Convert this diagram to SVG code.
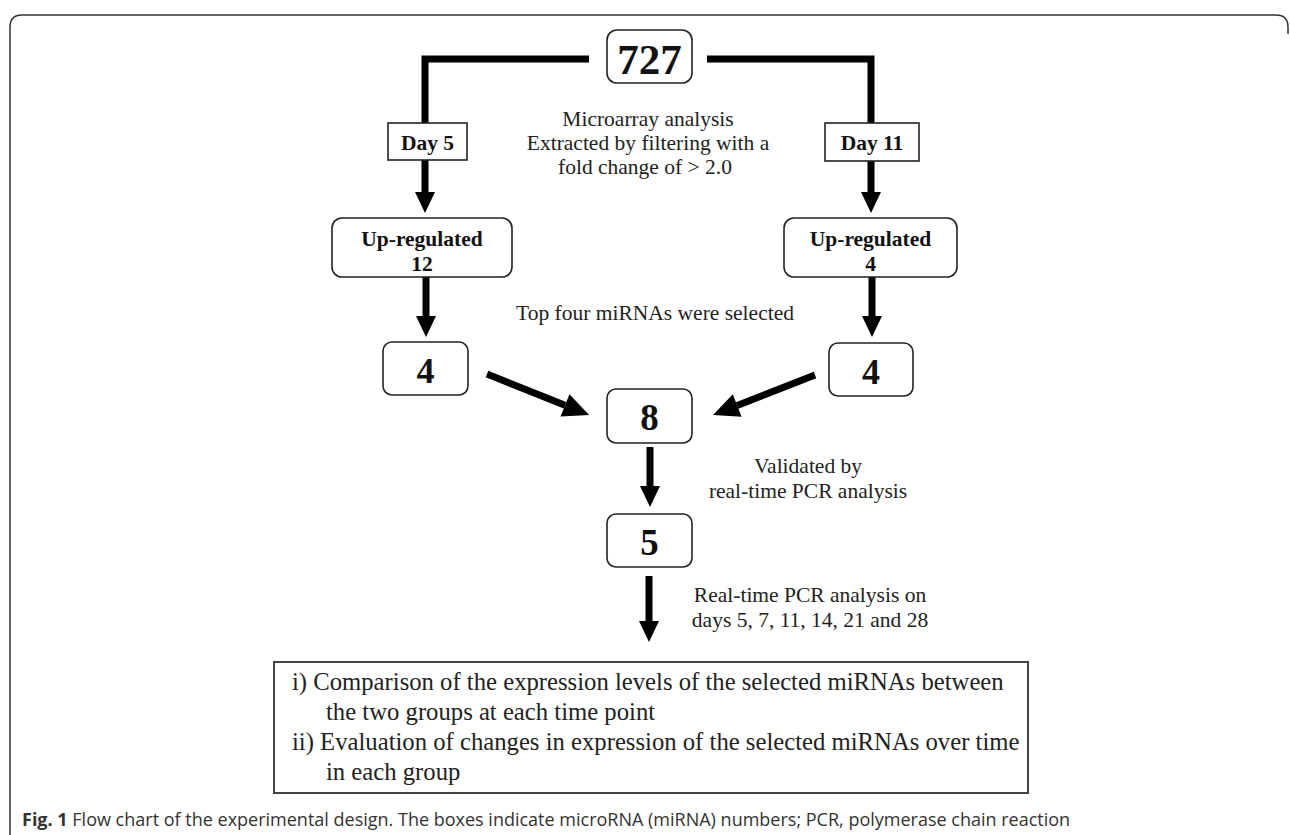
<svg xmlns="http://www.w3.org/2000/svg" width="1290" height="835" viewBox="0 0 1290 835">
<style>
.box{fill:#fff;stroke:#222;stroke-width:1.6}
.bt{font-family:"Liberation Serif","Times New Roman",serif;font-weight:bold;fill:#111;text-anchor:middle}
.rt{font-family:"Liberation Serif","Times New Roman",serif;fill:#222;font-size:21.5px;text-anchor:middle}
.conn{fill:none;stroke:#000;stroke-width:7;stroke-linejoin:miter;stroke-linecap:butt}
</style>
<defs>
<marker id="ah" markerUnits="userSpaceOnUse" markerWidth="21" markerHeight="20" refX="0" refY="10" orient="auto" viewBox="0 0 21 20" overflow="visible"><path d="M0,0 L21,10 L0,20 z" fill="#000"/></marker>
<marker id="ahd" markerUnits="userSpaceOnUse" markerWidth="26" markerHeight="24" refX="0" refY="12" orient="auto" viewBox="0 0 26 24" overflow="visible"><path d="M0,0 L26,12 L0,24 z" fill="#000"/></marker>
</defs>
<rect width="1290" height="835" fill="#fff"/>
<path d="M10,835 V27 Q10,15 22,15 H1276 Q1288,15 1288,27 V34" fill="none" stroke="#333" stroke-width="1.5"/>
<g id="connectors">
<path class="conn" d="M589,59 H425 V192" marker-end="url(#ah)"/>
<path class="conn" d="M707,59 H871 V192" marker-end="url(#ah)"/>
<path class="conn" d="M426,277 V316" marker-end="url(#ah)"/>
<path class="conn" d="M872,277 V316" marker-end="url(#ah)"/>
<path class="conn" d="M487,374 L565,405.3" marker-end="url(#ahd)"/>
<path class="conn" d="M815,375 L737.2,405.5" marker-end="url(#ahd)"/>
<path class="conn" d="M650,447 V486" marker-end="url(#ah)"/>
<path class="conn" d="M649,576 V621" marker-end="url(#ah)"/>
</g>
<g id="n727"><rect class="box" x="607" y="30" width="85" height="53" rx="10"/><text class="bt" x="649.5" y="74" font-size="43">727</text></g>
<g id="day5"><rect class="box" x="388" y="123" width="79" height="37"/><text class="bt" x="427.5" y="150" font-size="21.5">Day 5</text></g>
<g id="day11"><rect class="box" x="825" y="123" width="94" height="38"/><text class="bt" x="872" y="150" font-size="21.5">Day 11</text></g>
<g id="up12"><rect class="box" x="332" y="218" width="180" height="59" rx="10"/><text class="bt" x="422" y="246" font-size="21.5">Up-regulated</text><text class="bt" x="422" y="271" font-size="21.5">12</text></g>
<g id="up4"><rect class="box" x="784" y="218" width="173" height="59" rx="10"/><text class="bt" x="870.5" y="246" font-size="21.5">Up-regulated</text><text class="bt" x="870.5" y="271" font-size="21.5">4</text></g>
<g id="four-left"><rect class="box" x="383" y="342" width="85" height="53" rx="9"/><text class="bt" x="425.5" y="383" font-size="36">4</text></g>
<g id="four-right"><rect class="box" x="829" y="343" width="84" height="53" rx="9"/><text class="bt" x="871" y="384" font-size="36">4</text></g>
<g id="eight"><rect class="box" x="607" y="389" width="85" height="54" rx="9"/><text class="bt" x="649.5" y="430" font-size="37">8</text></g>
<g id="five"><rect class="box" x="607" y="514" width="85" height="53" rx="9"/><text class="bt" x="649.5" y="555" font-size="37">5</text></g>
<g id="labels">
<text class="rt" x="648" y="126">Microarray analysis</text>
<text class="rt" x="648" y="150">Extracted by filtering with a</text>
<text class="rt" x="645" y="174">fold change of &gt; 2.0</text>
<text class="rt" x="655" y="320">Top four miRNAs were selected</text>
<text class="rt" x="808" y="473">Validated by</text>
<text class="rt" x="808" y="498">real-time PCR analysis</text>
<text class="rt" x="810" y="602">Real-time PCR analysis on</text>
<text class="rt" x="810" y="627">days 5, 7, 11, 14, 21 and 28</text>
</g>
<g id="result">
<rect x="274" y="662" width="754" height="131" fill="#fff" stroke="#444" stroke-width="2"/>
<g font-family="'Liberation Serif','Times New Roman',serif" font-size="24.7" fill="#222">
<text x="292" y="690">i) Comparison of the expression levels of the selected miRNAs between</text>
<text x="326" y="720">the two groups at each time point</text>
<text x="292" y="750">ii) Evaluation of changes in expression of the selected miRNAs over time</text>
<text x="326" y="780">in each group</text>
</g>
</g>
<text x="22" y="826" font-family="'Open Sans','Noto Sans',sans-serif" font-size="18" fill="#333"><tspan font-weight="bold">Fig. 1</tspan> Flow chart of the experimental design. The boxes indicate microRNA (miRNA) numbers; PCR, polymerase chain reaction</text>
</svg>
